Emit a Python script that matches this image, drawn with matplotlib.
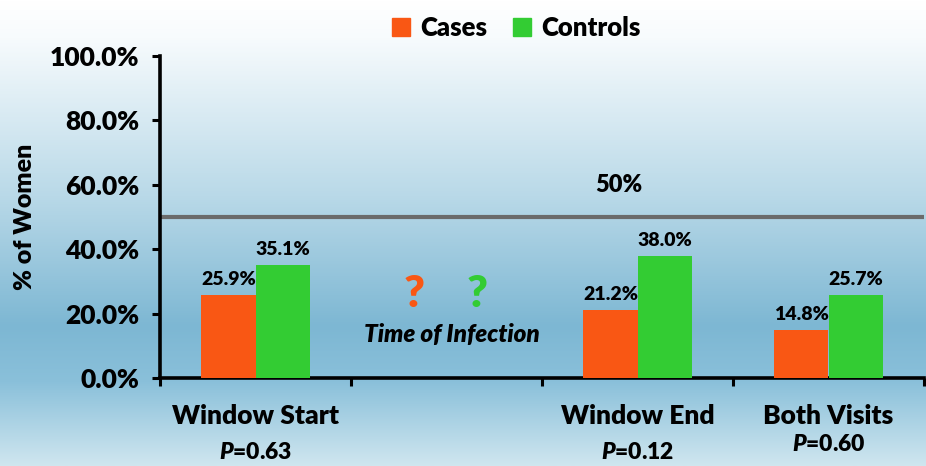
import numpy as np
import matplotlib
matplotlib.use("Agg")
import matplotlib.pyplot as plt
import matplotlib.ticker as mtick
from matplotlib.colors import LinearSegmentedColormap

plt.rcParams['font.family'] = ['Lato', 'DejaVu Sans']
plt.rcParams['font.weight'] = 'heavy'
plt.rcParams['mathtext.fontset'] = 'custom'
plt.rcParams['mathtext.it'] = 'Lato:italic:heavy'
plt.rcParams['mathtext.rm'] = 'Lato:heavy'

categories = ['Window Start', '', 'Window End', 'Both Visits']
p_values = ['0.63', '', '0.12', '0.60']
cases = [0.259, np.nan, 0.212, 0.148]
controls = [0.351, np.nan, 0.380, 0.257]
reference_level = 0.50

ORANGE = '#F95714'
GREEN = '#33CC33'
W = 'heavy'

fig = plt.figure(figsize=(9.26, 4.66), dpi=100)

# background gradient (white at the top, blue in the middle, lighter at the bottom)
bg = fig.add_axes([0, 0, 1, 1], zorder=0)
grad_cmap = LinearSegmentedColormap.from_list(
    'bg', [(0.0, '#ffffff'), (0.08, '#f7fbfd'), (0.42, '#b9d9e8'),
           (0.70, '#7db7d3'), (0.82, '#8ac0da'), (1.0, '#cfe6ef')])
bg.imshow(np.linspace(0, 1, 256).reshape(-1, 1), aspect='auto', cmap=grad_cmap,
          extent=[0, 1, 0, 1], origin='upper')
bg.axis('off')

ax = fig.add_axes([160 / 926, 88 / 466, 764 / 926, 322 / 466], zorder=1)
ax.patch.set_alpha(0)

x = np.arange(len(categories))
w = 0.283
ax.bar(x - w / 2, cases, w, color=ORANGE, zorder=3)
ax.bar(x + w / 2, controls, w, color=GREEN, zorder=3)

for xi, v in zip(x, cases):
    if not np.isnan(v):
        ax.annotate(f'{v * 100:.1f}%', (xi - w / 2, v), xytext=(0, 5), textcoords='offset points',
                    ha='center', va='bottom', fontsize=14, fontweight=W)
for xi, v in zip(x, controls):
    if not np.isnan(v):
        ax.annotate(f'{v * 100:.1f}%', (xi + w / 2, v), xytext=(0, 5), textcoords='offset points',
                    ha='center', va='bottom', fontsize=14, fontweight=W)

ax.axhline(reference_level, color='#6b6b6b', lw=3, zorder=2)
ax.text(1.9, reference_level + 0.065, '50%', ha='center', va='bottom', fontsize=17, fontweight=W)

# unknown time of infection
ax.text(0.83, 0.26, '?', color=ORANGE, ha='center', va='center', fontsize=32, fontweight=W)
ax.text(1.16, 0.26, '?', color=GREEN, ha='center', va='center', fontsize=32, fontweight=W)
ax.text(1.03, 0.134, 'Time of Infection', ha='center', va='center', fontsize=17.5,
        fontweight=W, style='italic')

ax.set_xlim(-0.5, len(categories) - 0.5)
ax.set_ylim(0, 1)
ax.yaxis.set_major_locator(mtick.MultipleLocator(0.2))
ax.yaxis.set_major_formatter(mtick.PercentFormatter(1.0, decimals=1))
ax.set_xticks(np.arange(len(categories) + 1) - 0.5)
ax.set_xticklabels([])
ax.tick_params(axis='both', width=2.2, length=6, direction='out', labelsize=19)
ax.tick_params(axis='y', pad=9)
for lbl in ax.get_yticklabels():
    lbl.set_fontweight(W)
for s in ['top', 'right']:
    ax.spines[s].set_visible(False)
for s in ['left', 'bottom']:
    ax.spines[s].set_linewidth(2.6)

trans = ax.get_xaxis_transform()
p_rows = [-0.2, None, -0.2, -0.175]
for xi, name, p, py in zip(x, categories, p_values, p_rows):
    if name:
        ax.text(xi, -0.08, name, transform=trans, ha='center', va='top', fontsize=19, fontweight=W)
        ax.text(xi, py, r'$\mathit{P}$=' + p, transform=trans, ha='center', va='top',
                fontsize=16.5, fontweight=W)

ax.set_ylabel('% of Women', fontsize=18, fontweight=W, labelpad=10)

leg = fig.legend(handles=[plt.Rectangle((0, 0), 1, 1, color=ORANGE),
                          plt.Rectangle((0, 0), 1, 1, color=GREEN)],
                 labels=['Cases', 'Controls'], loc='upper center', bbox_to_anchor=(0.558, 1.015),
                 ncol=2, frameon=False, fontsize=18.5, handlelength=0.7, handleheight=0.7,
                 handletextpad=0.4, columnspacing=1.0)
for t in leg.get_texts():
    t.set_fontweight(W)

fig.savefig('out.png', dpi=100)
